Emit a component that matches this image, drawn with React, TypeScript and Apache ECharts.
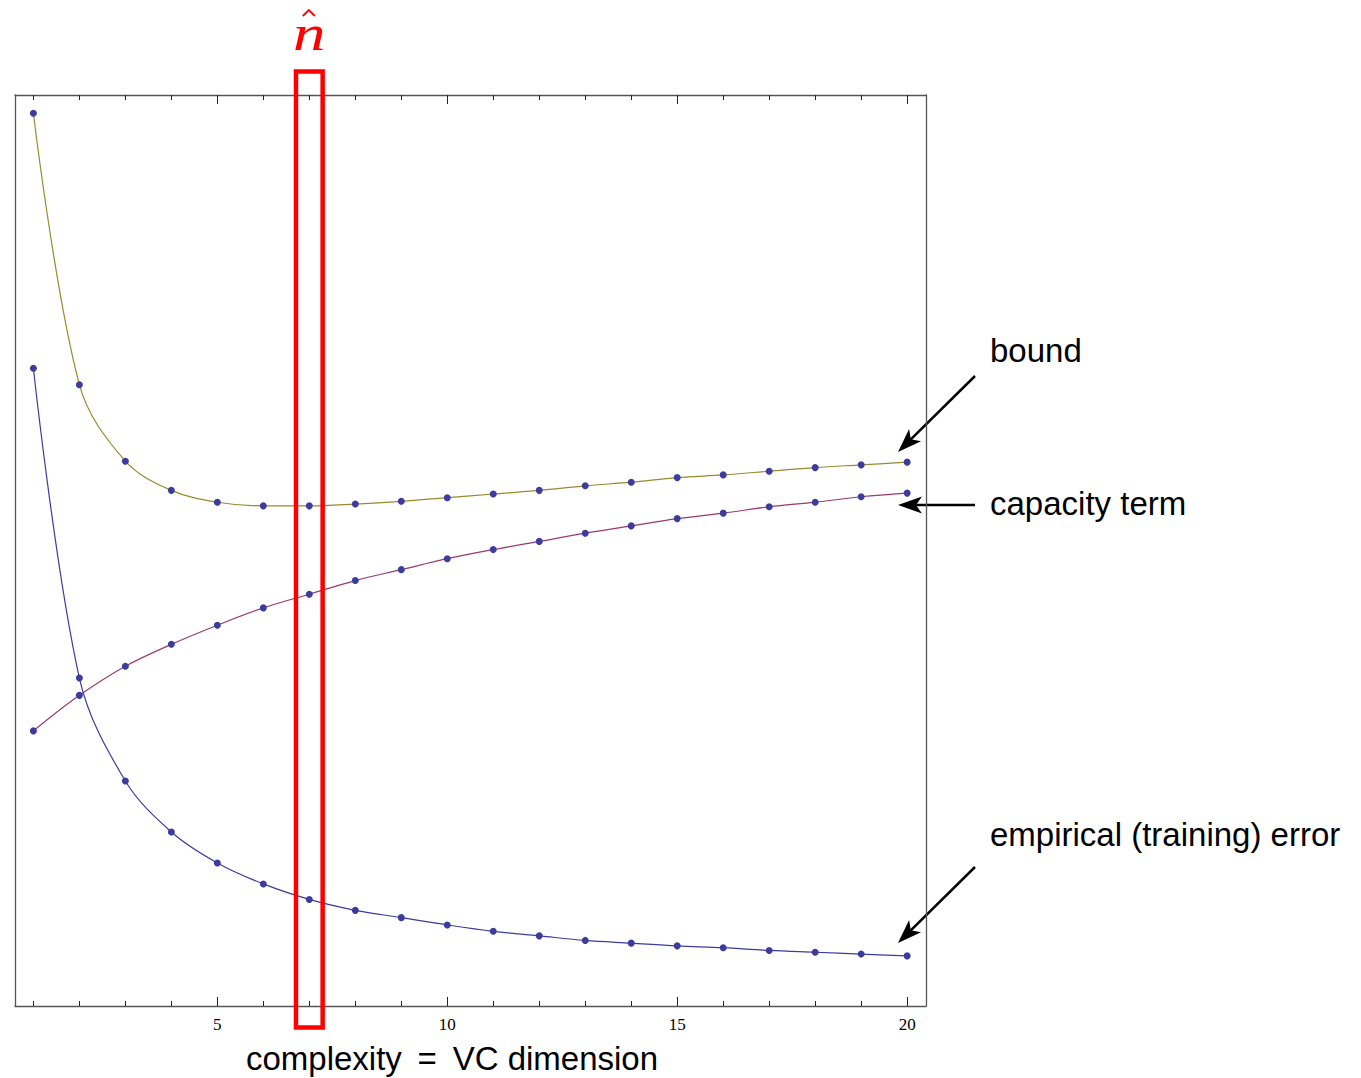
import React, { useEffect, useRef } from "react";
import * as echarts from "echarts";

const complexity = [1, 2, 3, 4, 5, 6, 7, 8, 9, 10, 11, 12, 13, 14, 15, 16, 17, 18, 19, 20];
const boundValues = [0.980, 0.682, 0.598, 0.566, 0.553, 0.549, 0.549, 0.551, 0.554, 0.558, 0.562, 0.566, 0.571, 0.575, 0.580, 0.583, 0.587, 0.591, 0.594, 0.597];
const capacityValues = [0.302, 0.341, 0.373, 0.397, 0.418, 0.437, 0.452, 0.467, 0.479, 0.491, 0.501, 0.510, 0.519, 0.527, 0.535, 0.541, 0.548, 0.553, 0.559, 0.563];
const empiricalValues = [0.700, 0.360, 0.247, 0.191, 0.157, 0.134, 0.117, 0.105, 0.097, 0.089, 0.082, 0.077, 0.072, 0.069, 0.066, 0.064, 0.061, 0.059, 0.057, 0.055];
const majorTicks = [5, 10, 15, 20];
const nHat = 7;
const nHatHalfWidth = 0.29;

const X_MIN = 0.6;
const X_MAX = 20.41;

function arrow(x1: number, y1: number, x2: number, y2: number) {
  const dx = x2 - x1;
  const dy = y2 - y1;
  const len = Math.sqrt(dx * dx + dy * dy);
  const ux = dx / len;
  const uy = dy / len;
  const px = -uy;
  const py = ux;
  const headLen = 24;
  const headHalf = 8.5;
  const notch = 18;
  const bx = x2 - ux * headLen;
  const by = y2 - uy * headLen;
  const nx = x2 - ux * notch;
  const ny = y2 - uy * notch;
  return [
    {
      type: "line",
      shape: { x1, y1, x2: nx, y2: ny },
      style: { stroke: "#000", lineWidth: 2.5 },
      silent: true,
    },
    {
      type: "polygon",
      shape: {
        points: [
          [x2, y2],
          [bx + px * headHalf, by + py * headHalf],
          [nx, ny],
          [bx - px * headHalf, by - py * headHalf],
        ],
      },
      style: { fill: "#000" },
      silent: true,
    },
  ];
}

const lineSeries = (name: string, values: number[], color: string) => ({
  name,
  type: "line",
  xAxisIndex: 0,
  yAxisIndex: 0,
  data: complexity.map((x, i) => [x, values[i]]),
  smooth: 0.35,
  symbol: "circle",
  symbolSize: 7,
  itemStyle: { color: "#3c3c9e" },
  lineStyle: { color, width: 1.2 },
  z: 3,
});

export default function App() {
  const ref = useRef<HTMLDivElement>(null);

  useEffect(() => {
    if (!ref.current) return;
    const chart = echarts.init(ref.current, null, { renderer: "svg" });
    const axisLine = { show: true, lineStyle: { color: "#555", width: 1.3 } };
    const baseX = {
      type: "value",
      min: X_MIN,
      max: X_MAX,
      splitLine: { show: false },
    };
    chart.setOption({
      animation: false,
      backgroundColor: "#fff",
      grid: { left: 15, top: 95, width: 911, height: 911, containLabel: false },
      xAxis: [
        {
          ...baseX,
          position: "bottom",
          axisLine,
          axisTick: { show: true, inside: true, length: 5, customValues: complexity, lineStyle: { color: "#222", width: 1 } },
          axisLabel: { show: true, customValues: majorTicks, fontFamily: "Liberation Serif", fontSize: 17, color: "#000", margin: 10 },
        },
        {
          ...baseX,
          position: "bottom",
          axisLine: { show: false },
          axisTick: { show: true, inside: true, length: 9, customValues: majorTicks, lineStyle: { color: "#222", width: 1 } },
          axisLabel: { show: false },
        },
        {
          ...baseX,
          position: "top",
          axisLine,
          axisTick: { show: true, inside: true, length: 5, customValues: complexity, lineStyle: { color: "#222", width: 1 } },
          axisLabel: { show: false },
        },
        {
          ...baseX,
          position: "top",
          axisLine: { show: false },
          axisTick: { show: true, inside: true, length: 9, customValues: majorTicks, lineStyle: { color: "#222", width: 1 } },
          axisLabel: { show: false },
        },
      ],
      yAxis: [
        { type: "value", min: 0, max: 1, position: "left", axisLine, axisTick: { show: false }, axisLabel: { show: false }, splitLine: { show: false } },
        { type: "value", min: 0, max: 1, position: "right", axisLine, axisTick: { show: false }, axisLabel: { show: false }, splitLine: { show: false } },
      ],
      series: [
        lineSeries("bound", boundValues, "#9a8a2e"),
        lineSeries("capacity term", capacityValues, "#9a3a6e"),
        lineSeries("empirical (training) error", empiricalValues, "#3c3c9e"),
      ],
    });

    const left = chart.convertToPixel({ xAxisIndex: 0 }, nHat - nHatHalfWidth) as number;
    const right = chart.convertToPixel({ xAxisIndex: 0 }, nHat + nHatHalfWidth) as number;
    const cx = (left + right) / 2;
    const labelFont = "Liberation Sans";

    chart.setOption({
      graphic: [
        {
          type: "rect",
          shape: { x: left, y: 71.5, width: right - left, height: 956 },
          style: { fill: "none", stroke: "#ff0000", lineWidth: 4.5 },
          z: 10,
          silent: true,
        },
        {
          type: "text",
          x: cx,
          y: 33,
          scaleX: 1.3,
          style: { text: "n", font: "italic 50px 'Liberation Serif'", fill: "#ff0000", textAlign: "center", textVerticalAlign: "middle" },
          z: 10,
        },
        {
          type: "polyline",
          shape: { points: [[cx - 6.5, 16], [cx - 0.5, 10], [cx + 5.5, 16]] },
          style: { stroke: "#ff0000", lineWidth: 1.8, fill: "none" },
          z: 10,
        },
        {
          type: "text",
          x: 990,
          y: 350,
          style: { text: "bound", font: `33px '${labelFont}'`, fill: "#000", textVerticalAlign: "middle" },
        },
        {
          type: "text",
          x: 990,
          y: 503,
          style: { text: "capacity term", font: `33px '${labelFont}'`, fill: "#000", textVerticalAlign: "middle" },
        },
        {
          type: "text",
          x: 990,
          y: 834,
          style: { text: "empirical (training) error", font: `33px '${labelFont}'`, fill: "#000", textVerticalAlign: "middle" },
        },
        {
          type: "text",
          x: 452,
          y: 1058,
          style: { text: "complexity \u2009=\u2009 VC dimension", font: `33px '${labelFont}'`, fill: "#000", textAlign: "center", textVerticalAlign: "middle" },
        },
        ...arrow(975, 376, 898, 452),
        ...arrow(975, 505, 898, 505),
        ...arrow(975, 867, 898, 943),
      ],
    });

    return () => chart.dispose();
  }, []);

  return (
    <div
      ref={ref}
      style={{ position: "fixed", left: 0, top: 0, width: 1361, height: 1078, background: "#fff" }}
    />
  );
}
